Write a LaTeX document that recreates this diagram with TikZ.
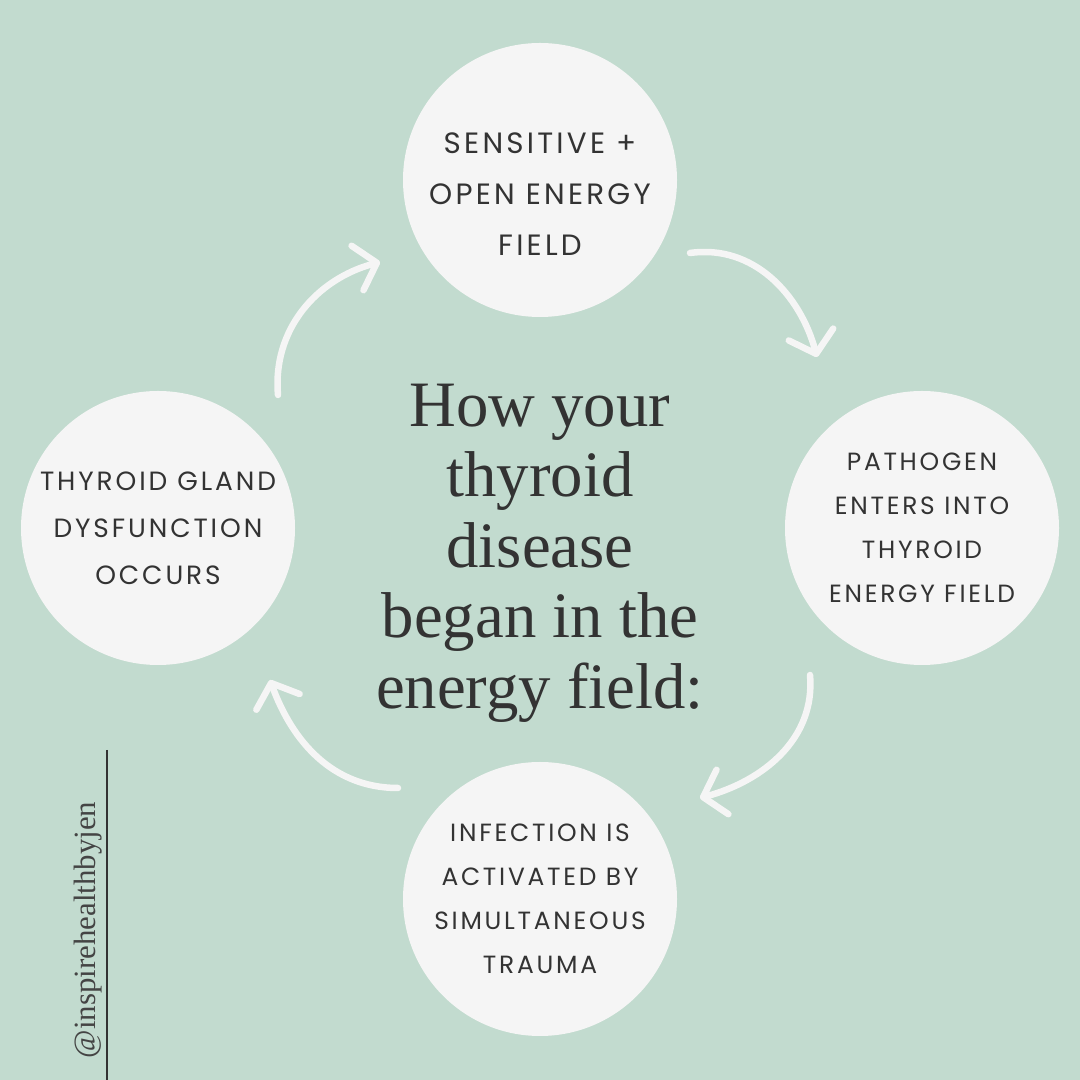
\documentclass[tikz,border=0pt]{standalone}
\usepackage{fontspec}
\usepackage{xcolor}
\usepackage{tikz}
\usetikzlibrary{arrows.meta,calc}
\newfontfamily\capsfont{Poppins}
\newfontfamily\titlefont{Liberation Serif}
\definecolor{csage}{HTML}{C2DBCF}
\definecolor{cwhite}{HTML}{F5F5F5}
\definecolor{cink}{HTML}{333333}
\definecolor{chandle}{HTML}{444444}

\begin{document}
\begin{tikzpicture}[
    x=1bp, y=1bp,
    bubble/.style={circle, fill=cwhite, minimum size=274bp, inner sep=0pt},
    steptext/.style={text=cink, align=center, inner sep=0pt},
    bigcaps/.style={steptext, font=\capsfont\fontsize{29.5}{51}\selectfont\addfontfeature{LetterSpace=11}},
    midcaps/.style={steptext, font=\capsfont\fontsize{26.5}{47}\selectfont\addfontfeature{LetterSpace=11}},
    smallcaps/.style={steptext, font=\capsfont\fontsize{25}{44}\selectfont\addfontfeature{LetterSpace=11}},
    flow/.style={draw=cwhite, line width=6.5bp, line cap=round,
                 -{Straight Barb[length=20bp, width=46bp, round]}},
]

% Background and page size
\fill[csage] (0,0) rectangle (1080,1080);
\useasboundingbox (0,0) rectangle (1080,1080);

% The four stages, clockwise from the top
\node[bubble] (sensitive)   at (540,900) {};
\node[bubble] (pathogen)    at (922,552) {};
\node[bubble] (infection)   at (540,181) {};
\node[bubble] (dysfunction) at (158,552) {};

\node[bigcaps]   (sensitivetxt)   at ([yshift=-14]sensitive)   {SENSITIVE +\\OPEN ENERGY\\FIELD};
\node[smallcaps] (pathogentxt)    at (pathogen)    {PATHOGEN\\ENTERS INTO\\THYROID\\ENERGY FIELD};
\node[smallcaps] (infectiontxt)   at (infection)   {INFECTION IS\\ACTIVATED BY\\SIMULTANEOUS\\TRAUMA};
\node[midcaps]   (dysfunctiontxt) at (dysfunction) {THYROID GLAND\\DYSFUNCTION\\OCCURS};

% Title in the middle
\node[text=cink, align=center, inner sep=0pt, font=\titlefont\fontsize{65}{70.7}\selectfont]
    (title) at (540,527) {How your\\thyroid\\disease\\began in the\\energy field:};

% Arrow ends, placed round the circles
\coordinate (a1s) at ($(sensitive)+(150,-73)$);
\coordinate (a1e) at ($(pathogen)+(-105,171)$);
\coordinate (a2s) at ($(pathogen)+(-112,-147)$);
\coordinate (a2e) at ($(infection)+(160,101)$);
\coordinate (a3s) at ($(infection)+(-142,111)$);
\coordinate (a3e) at ($(dysfunction)+(112,-152)$);
\coordinate (a4s) at ($(dysfunction)+(120,133)$);
\coordinate (a4e) at ($(sensitive)+(-160,-82)$);

% Cycle arrows
\draw[flow] (a1s) to[out=8,   in=105] (a1e);
\draw[flow] (a2s) to[out=-85, in=15]  (a2e);
\draw[flow] (a3s) to[out=180, in=-70] (a3e);
\draw[flow] (a4s) to[out=95,  in=195] (a4e);

% Handle with rule
\node[rotate=90, anchor=base, inner sep=0pt, text=chandle, font=\titlefont\fontsize{31}{32}\selectfont]
    (handle) at (95,150) {@inspirehealthbyjen};
\coordinate (ruletop) at (107,330);
\coordinate (rulebot) at (107,0);
\draw[cink, line width=2bp] (ruletop) -- (rulebot);

\end{tikzpicture}
\end{document}
